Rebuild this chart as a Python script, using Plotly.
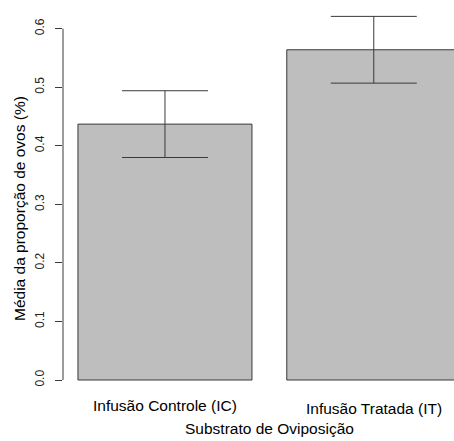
import plotly.graph_objects as go

categories = ["Infusão Controle (IC)", "Infusão Tratada (IT)"]
means = [0.437, 0.564]
se = [0.057, 0.057]
bar_pos = [0.7, 1.9]
yticks = [0.0, 0.1, 0.2, 0.3, 0.4, 0.5, 0.6]
ytick_text = ["0.0", "0.1", "0.2", "0.3", "0.4", "0.5", "0.6"]
label_shift = [-13, -16]

FONT = "Liberation Sans, Arial, Helvetica, sans-serif"

fig = go.Figure()
fig.add_trace(go.Bar(
    x=bar_pos, y=means, width=1.0,
    marker=dict(color="#BEBEBE", line=dict(color="#3a3a3a", width=1)),
    error_y=dict(type="data", array=se, visible=True, color="#3a3a3a",
                 thickness=1, width=43),
    showlegend=False, hoverinfo="skip",
))

# y axis line only from 0 to 0.6 (R style)
fig.add_shape(type="line", xref="paper", yref="y", x0=0, x1=0,
              y0=yticks[0], y1=yticks[-1], line=dict(color="#3a3a3a", width=1))

for xp, lab, sh in zip(bar_pos, categories, label_shift):
    fig.add_annotation(x=xp, xref="x", y=0, yref="paper", text=lab,
                       showarrow=False, yanchor="middle", yshift=sh,
                       font=dict(family=FONT, size=15.5, color="black"))

fig.add_annotation(x=0.529, xref="paper", y=0, yref="paper",
                   text="Substrato de Oviposição", showarrow=False,
                   yanchor="middle", yshift=-36,
                   font=dict(family=FONT, size=15.5, color="black"))
fig.add_annotation(x=-0.11, xref="paper", y=0.4817, yref="paper",
                   text="Média da proporção de ovos (%)", showarrow=False,
                   textangle=-90, xanchor="center", yanchor="middle",
                   font=dict(family=FONT, size=15.5, color="black"))

fig.update_layout(
    width=454, height=441,
    margin=dict(l=63, r=0, t=10, b=49),
    plot_bgcolor="white", paper_bgcolor="white",
    font=dict(family=FONT, color="black"),
    hovermode=False,
    xaxis=dict(range=[0.114, 2.361], showticklabels=False, ticks="",
               showgrid=False, zeroline=False, showline=False),
    yaxis=dict(range=[-0.0205, 0.6319], tickvals=yticks, ticktext=ytick_text,
               ticks="outside", ticklen=7, tickcolor="#3a3a3a", tickwidth=1,
               tickangle=-90, ticklabelstandoff=6,
               tickfont=dict(family=FONT, size=12, color="#222"),
               showgrid=False, zeroline=False, showline=False),
)

fig.write_html("out.html",
               config={"displayModeBar": False},
               post_script="document.body.style.margin='0';"
                           "document.body.style.overflow='hidden';")
